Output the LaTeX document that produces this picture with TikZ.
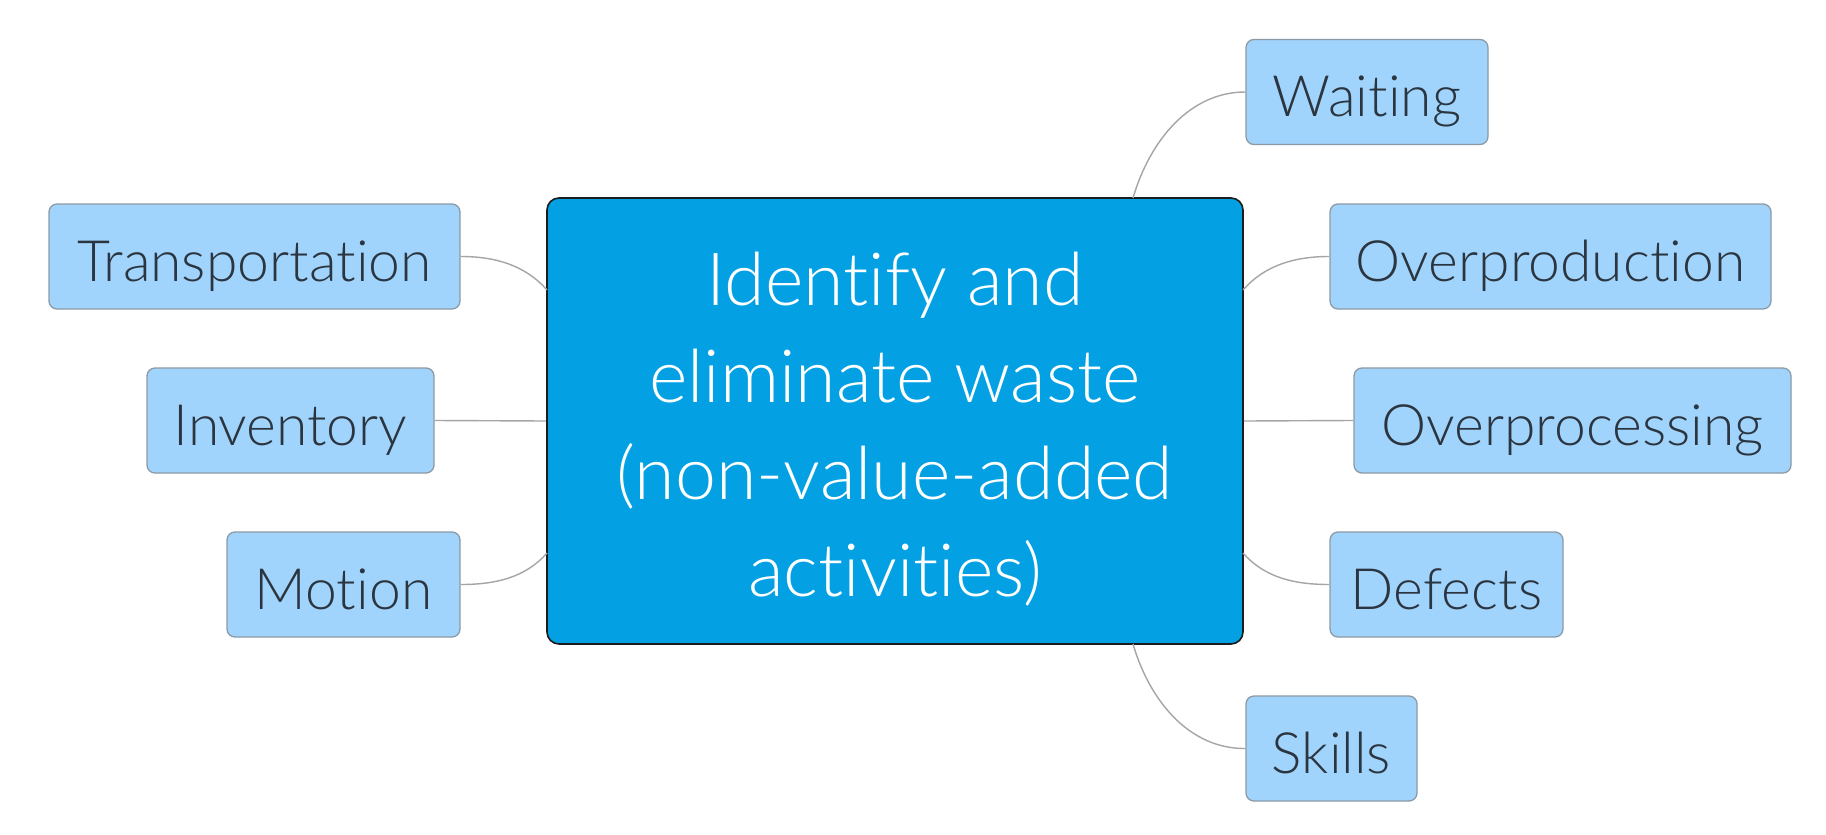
\documentclass[tikz,border=0pt]{standalone}
\usepackage{fontspec}
\setmainfont{Lato Light}[RawFeature=-liga]
\definecolor{cfill}{HTML}{03A1E4}
\definecolor{cborder}{HTML}{1C1C1C}
\definecolor{lfill}{HTML}{A1D4FC}
\definecolor{lborder}{HTML}{8C9AA5}
\definecolor{ltext}{HTML}{2B3540}
\definecolor{conn}{HTML}{A5A5A5}
\tikzset{
  leaf/.style={draw=lborder, fill=lfill, line width=1.3pt, rounded corners=8pt,
    minimum height=105pt, inner sep=0pt, text=ltext, text height=49pt, text depth=0pt,
    font=\fontsize{57}{66}\selectfont},
  hub/.style={draw=cborder, fill=cfill, line width=1.6pt, rounded corners=12pt,
    minimum width=696pt, minimum height=446pt, inner sep=0pt, text=white,
    text height=0pt, text depth=0pt,
    font=\fontsize{73.5}{97}\selectfont},
  link/.style={draw=conn, line width=1.4pt}
}
\begin{document}
\begin{tikzpicture}[x=1pt,y=-1pt]
\useasboundingbox[fill=white] (0,0) rectangle (1826,835);
\node[hub] (c) at (895,421) {\raisebox{116pt}{\begin{tabular}[t]{@{}c@{}}Identify and\\eliminate waste\\(non-value-added\\activities)\end{tabular}}};
\node[leaf, minimum width=242pt] (wai) at (1367,92) {Waiting};
\node[leaf, minimum width=411pt] (tra) at (254.5,256.5) {Transportation};
\node[leaf, minimum width=287pt] (inv) at (290.5,420.5) {Inventory};
\node[leaf, minimum width=233pt] (mot) at (343.5,584.5) {Motion};
\node[leaf, minimum width=441pt] (opd) at (1550.5,256.5) {Overproduction};
\node[leaf, minimum width=437pt] (opc) at (1572.5,420.5) {Overprocessing};
\node[leaf, minimum width=233pt] (def) at (1446.5,584.5) {Defects};
\node[leaf, minimum width=171pt] (ski) at (1331.5,748.5) {Skills};
\coordinate (cT) at (1133,198);
\coordinate (cB) at (1133,644);
\coordinate (cLT) at (547,290);
\coordinate (cLB) at (547,553);
\coordinate (cRT) at (1243,290);
\coordinate (cRB) at (1243,553);
\draw[link] (cT) .. controls (1150,140) and (1190,92) .. (wai.west);
\draw[link] (cB) .. controls (1150,702) and (1190,749) .. (ski.west);
\draw[link] (cRT) .. controls (1265,265) and (1295,256.5) .. (opd.west);
\draw[link] (cRB) .. controls (1265,578) and (1295,584.5) .. (def.west);
\draw[link] (c.east) -- (opc.west);
\draw[link] (tra.east) .. controls (495,256.5) and (525,265) .. (cLT);
\draw[link] (mot.east) .. controls (495,584.5) and (525,578) .. (cLB);
\draw[link] (inv.east) -- (c.west);
\end{tikzpicture}
\end{document}
